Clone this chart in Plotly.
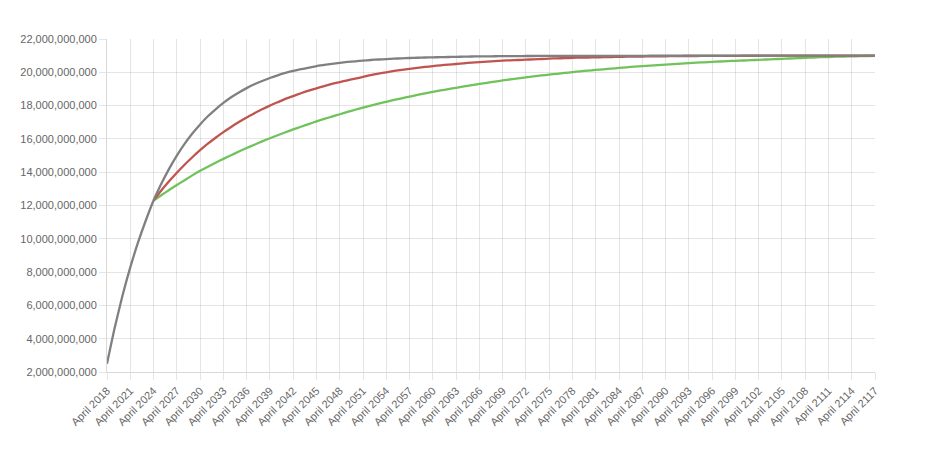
import plotly.graph_objects as go

# Categories: April 2018 .. April 2117 (yearly)
years = list(range(2018, 2118))
categories = [f"April {y}" for y in years]

# Values in billions
gray_values = [
    2.50, 4.67, 6.59, 8.28, 9.78, 11.10, 12.30, 13.30, 14.20, 15.00,
    15.70, 16.32, 16.87, 17.36, 17.78, 18.16, 18.50, 18.79, 19.05, 19.28,
    19.48, 19.66, 19.82, 19.96, 20.08, 20.19, 20.28, 20.37, 20.44, 20.51,
    20.57, 20.62, 20.66, 20.70, 20.74, 20.77, 20.79, 20.82, 20.84, 20.86,
    20.875, 20.89, 20.90, 20.91, 20.92, 20.93, 20.94, 20.95, 20.955, 20.96,
    20.965, 20.97, 20.972, 20.975, 20.978, 20.98, 20.983, 20.985, 20.987, 20.988,
    20.99, 20.99, 20.99, 20.99, 20.99, 20.99, 20.99, 20.99, 20.99, 20.99,
    20.995, 20.995, 20.995, 20.995, 20.995, 20.995, 20.995, 20.995, 20.995, 20.995,
    21.0, 21.0, 21.0, 21.0, 21.0, 21.0, 21.0, 21.0, 21.0, 21.0,
    21.0, 21.0, 21.0, 21.0, 21.0, 21.0, 21.0, 21.0, 21.0, 21.0,
]

# Scenario series start in April 2024
red_values = [None] * 6 + [
    12.30, 12.90, 13.45, 13.97, 14.45, 14.90, 15.32, 15.71, 16.07, 16.41,
    16.72, 17.01, 17.29, 17.54, 17.78, 18.00, 18.20, 18.40, 18.57, 18.74,
    18.90, 19.04, 19.17, 19.30, 19.41, 19.52, 19.62, 19.72, 19.83, 19.92,
    20.00, 20.08, 20.15, 20.21, 20.27, 20.32, 20.37, 20.42, 20.46, 20.50,
    20.54, 20.58, 20.61, 20.64, 20.67, 20.70, 20.72, 20.74, 20.76, 20.78,
    20.80, 20.82, 20.84, 20.85, 20.87, 20.88, 20.89, 20.90, 20.91, 20.92,
    20.93, 20.94, 20.945, 20.95, 20.955, 20.96, 20.965, 20.97, 20.975, 20.98,
    20.98, 20.985, 20.985, 20.99, 20.99, 20.99, 20.995, 20.995, 20.995, 21.0,
    21.0, 21.0, 21.0, 21.0, 21.0, 21.0, 21.0, 21.0, 21.0, 21.0,
    21.0, 21.0, 21.0, 21.0,
]

green_values = [None] * 6 + [
    12.30, 12.62, 12.93, 13.23, 13.52, 13.81, 14.08, 14.33, 14.57, 14.80,
    15.02, 15.24, 15.45, 15.65, 15.85, 16.04, 16.22, 16.40, 16.57, 16.73,
    16.89, 17.05, 17.20, 17.34, 17.48, 17.62, 17.75, 17.88, 18.00, 18.12,
    18.23, 18.34, 18.44, 18.54, 18.64, 18.73, 18.82, 18.91, 18.99, 19.07,
    19.15, 19.23, 19.30, 19.37, 19.44, 19.51, 19.57, 19.63, 19.69, 19.75,
    19.81, 19.86, 19.91, 19.96, 20.01, 20.06, 20.10, 20.14, 20.18, 20.22,
    20.26, 20.30, 20.34, 20.37, 20.40, 20.43, 20.46, 20.49, 20.52, 20.55,
    20.58, 20.60, 20.63, 20.65, 20.67, 20.69, 20.71, 20.73, 20.75, 20.77,
    20.79, 20.81, 20.83, 20.85, 20.87, 20.89, 20.91, 20.92, 20.94, 20.95,
    20.96, 20.97, 20.98, 20.99,
]

BILLION = 1e9
def scale(vals):
    return [None if v is None else v * BILLION for v in vals]

tick_labels = categories[::3]

fig = go.Figure()
fig.add_trace(go.Scatter(x=categories, y=scale(green_values), mode="lines",
                         line=dict(color="#6fc35a", width=2.3, shape="spline", smoothing=0.6),
                         connectgaps=False, showlegend=False))
fig.add_trace(go.Scatter(x=categories, y=scale(red_values), mode="lines",
                         line=dict(color="#c0544f", width=2.3, shape="spline", smoothing=0.6),
                         connectgaps=False, showlegend=False))
fig.add_trace(go.Scatter(x=categories, y=scale(gray_values), mode="lines",
                         line=dict(color="#808080", width=2.3, shape="spline", smoothing=0.6),
                         showlegend=False))

grid = "rgba(0,0,0,0.1)"
fig.update_layout(
    width=911, height=434,
    margin=dict(l=99, r=44, t=31, b=70),
    paper_bgcolor="white", plot_bgcolor="white",
    font=dict(family="Liberation Sans, Arial, Helvetica, sans-serif", size=11, color="#666666"),
    xaxis=dict(
        type="category",
        categoryorder="array", categoryarray=categories,
        range=[0, len(categories) - 1],
        tickmode="array", tickvals=tick_labels, ticktext=tick_labels,
        tickangle=-45,
        showgrid=True, gridcolor=grid, gridwidth=1,
        ticks="outside", ticklen=7, tickcolor=grid,
        showline=True, linecolor="rgba(0,0,0,0.15)", linewidth=1,
        zeroline=False,
        tickfont=dict(size=11, color="#666666"),
    ),
    yaxis=dict(
        range=[2e9, 22e9],
        tick0=2e9, dtick=2e9,
        tickformat=",d",
        showgrid=True, gridcolor=grid, gridwidth=1,
        ticks="outside", ticklen=7, tickcolor=grid,
        showline=True, linecolor="rgba(0,0,0,0.15)", linewidth=1,
        zeroline=False,
        tickfont=dict(size=11, color="#666666"),
    ),
)

fig.write_html("out.html")
